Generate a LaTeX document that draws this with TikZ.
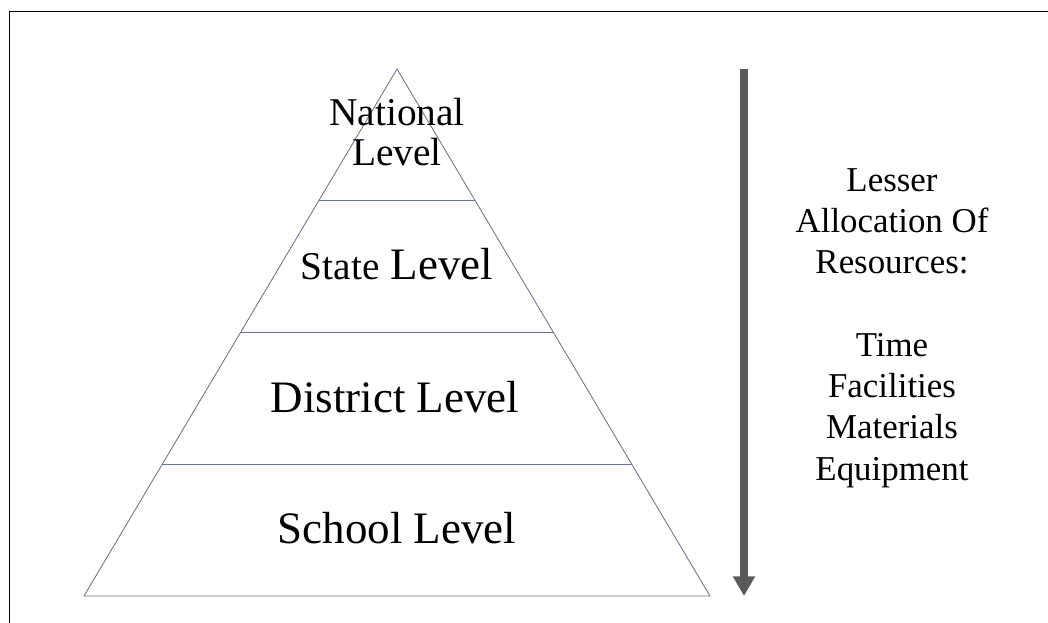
\documentclass[tikz,border=0pt]{standalone}
\usepackage{fontspec}
\setmainfont{Liberation Serif}
\usetikzlibrary{positioning}
\usetikzlibrary{arrows.meta}
\usetikzlibrary{calc}
\definecolor{edgegray}{RGB}{105,115,135}
\definecolor{arrowgray}{RGB}{89,89,89}

\begin{document}
\begin{tikzpicture}[
            x = 0.025cm, y = -0.025cm, % one unit is one pixel, y runs down
            semithick % line style
        ]

        \tikzstyle{tier}=[
            draw = edgegray,
            line width = 0.6pt
        ]
        \tikzstyle{level}=[
            inner sep = 0pt,
            align = center,
            anchor = base, % base of the last line
            font = \fontsize{32}{36}\selectfont
        ]
        \tikzstyle{res}=[
            inner sep = 0pt,
            align = center,
            anchor = base,
            font = \fontsize{24.8}{29.2}\selectfont
        ]

        \useasboundingbox (0,0) rectangle (1048,623);

        % frame
        \draw[line width = 1pt] (1048,11.5) -- (9.5,11.5) -- (9.5,623);

        % pyramid
        \coordinate (T) at (397,69);
        \coordinate (BL) at (84,596);
        \coordinate (BR) at (710,596);
        \draw[tier] (BL) -- (T) -- (BR) -- cycle;
        \draw[tier] ($(T)!.25!(BL)$) -- ($(T)!.25!(BR)$);
        \draw[tier] ($(T)!.5!(BL)$) -- ($(T)!.5!(BR)$);
        \draw[tier] ($(T)!.75!(BL)$) -- ($(T)!.75!(BR)$);

        % levels
        \node[level, font = \fontsize{28}{28.5}\selectfont] (N) at (397,166) {National\\Level};
        \node[level] (S) at (397,280) {{\fontsize{28}{30}\selectfont State} Level};
        \node[level] (D) at (395,412) {District Level};
        \node[level] (Sc) at (397,543) {School Level};

        % resources arrow
        \coordinate (A1) at (744,69);
        \coordinate (A2) at (744,596);
        \draw[arrowgray, line width = 5pt, -{Triangle[width=15pt, length=14pt]}] (A1) -- (A2);

        \node[res] (L) at (892,274) {Lesser\\Allocation Of\\Resources:};
        \node[res] (R) at (892,480) {Time\\Facilities\\Materials\\Equipment};

\end{tikzpicture}
\end{document}
